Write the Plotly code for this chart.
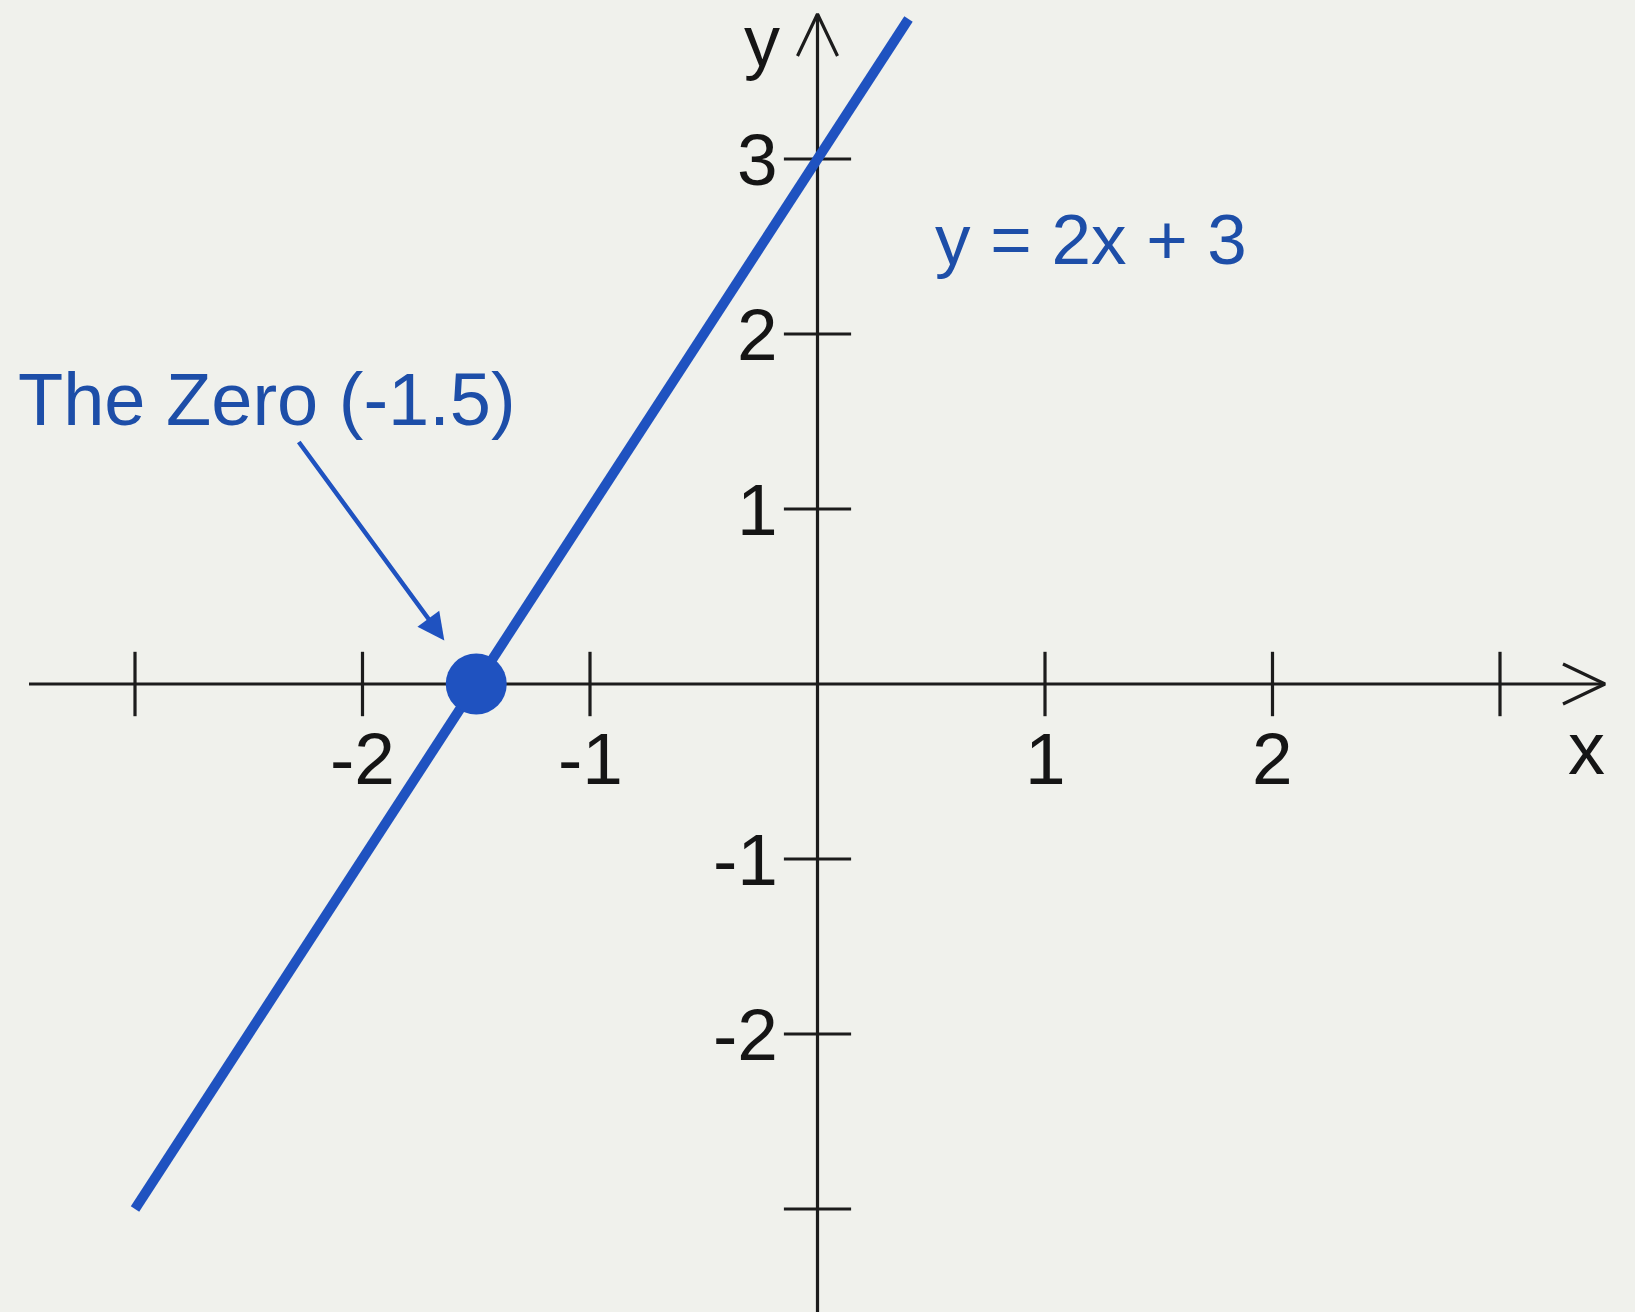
import plotly.graph_objects as go

# ---- data -------------------------------------------------------------
x_tick_vals = [-3, -2, -1, 1, 2, 3]
x_tick_text = ["", "-2", "-1", "1", "2", ""]
y_tick_vals = [-3, -2, -1, 1, 2, 3]
y_tick_text = ["", "-2", "-1", "1", "2", "3"]

# y = 2x + 3, drawn between these two points
line_x = [-3.0, 0.4]
line_y = [-3.0, 3.8]
line_label = "y = 2x + 3"

zero_x = -1.5
zero_y = 0.0
zero_label = "The Zero (-1.5)"

# ---- page geometry ------------------------------------------------------
W, H = 1635, 1312
UX, UY = 227.5, 175.0          # pixels per unit on x and y
OX, OY = 817.5, 684.0          # page pixel of the origin

x_range = [-OX / UX, (W - OX) / UX]
y_range = [-(H - OY) / UY, OY / UY]

AXIS_COLOR = "#1c1c1c"
BLUE = "#1f52c0"
TEXT_BLUE = "#1d4ea8"
BG = "#f0f1ec"
FONT = "Liberation Sans, Arial, Helvetica, sans-serif"

x_axis_start = (29 - OX) / UX
x_axis_end = (1605 - OX) / UX
y_axis_top = (OY - 14) / UY
y_axis_bottom = y_range[0]

head_len, head_half = 42, 20   # axis arrow chevrons, in pixels
AXIS_W = 3.2

fig = go.Figure()

# x axis with arrow
fig.add_trace(go.Scatter(x=[x_axis_start, x_axis_end], y=[0, 0], mode="lines",
                         line=dict(color=AXIS_COLOR, width=AXIS_W), hoverinfo="skip"))
fig.add_trace(go.Scatter(
    x=[x_axis_end - head_len / UX, x_axis_end, x_axis_end - head_len / UX],
    y=[head_half / UY, 0, -head_half / UY], mode="lines",
    line=dict(color=AXIS_COLOR, width=AXIS_W), hoverinfo="skip"))

# y axis with arrow
fig.add_trace(go.Scatter(x=[0, 0], y=[y_axis_bottom, y_axis_top], mode="lines",
                         line=dict(color=AXIS_COLOR, width=AXIS_W), hoverinfo="skip"))
fig.add_trace(go.Scatter(
    x=[-head_half / UX, 0, head_half / UX],
    y=[y_axis_top - head_len / UY, y_axis_top, y_axis_top - head_len / UY],
    mode="lines", line=dict(color=AXIS_COLOR, width=AXIS_W), hoverinfo="skip"))

# tick marks crossing the axes
fig.add_trace(go.Scatter(x=x_tick_vals, y=[0] * len(x_tick_vals), mode="markers",
                         marker=dict(symbol="line-ns", size=46,
                                     line=dict(color=AXIS_COLOR, width=AXIS_W)),
                         hoverinfo="skip"))
fig.add_trace(go.Scatter(x=[0] * len(y_tick_vals), y=y_tick_vals, mode="markers",
                         marker=dict(symbol="line-ew", size=48,
                                     line=dict(color=AXIS_COLOR, width=AXIS_W)),
                         hoverinfo="skip"))

# the function
fig.add_trace(go.Scatter(x=line_x, y=line_y, mode="lines",
                         line=dict(color=BLUE, width=10), hoverinfo="skip"))

# its zero
fig.add_trace(go.Scatter(x=[zero_x], y=[zero_y], mode="markers",
                         marker=dict(size=61, color=BLUE), hoverinfo="skip"))

annotations = []
for v, t in zip(x_tick_vals, x_tick_text):
    if t:
        annotations.append(dict(x=v, y=0, text=t, showarrow=False, yshift=-74,
                                xanchor="center", yanchor="middle",
                                font=dict(family=FONT, size=73, color="#151515")))
for v, t in zip(y_tick_vals, y_tick_text):
    if t:
        annotations.append(dict(x=0, y=v, text=t, showarrow=False, xshift=-38,
                                xanchor="right", yanchor="middle",
                                font=dict(family=FONT, size=73, color="#151515")))

# axis names
annotations.append(dict(x=0, y=1, yref="paper", text="y", showarrow=False,
                        xshift=-56, borderpad=0, xanchor="center", yanchor="top",
                        font=dict(family=FONT, size=72, color="#151515")))
annotations.append(dict(x=x_axis_end, y=0, text="x", showarrow=False,
                        xshift=-19, yshift=-64, xanchor="center", yanchor="middle",
                        font=dict(family=FONT, size=74, color="#151515")))

# equation label
annotations.append(dict(x=1.2, y=2.54, text=line_label, showarrow=False,
                        xanchor="center", yanchor="middle",
                        font=dict(family=FONT, size=71, color=TEXT_BLUE)))

# pointer to the zero
annotations.append(dict(x=zero_x, y=zero_y, text=zero_label, showarrow=True,
                        ax=-209, ay=-285, standoff=54,
                        arrowhead=2, arrowwidth=4.5, arrowsize=1.2, arrowcolor=BLUE,
                        font=dict(family=FONT, size=74, color=TEXT_BLUE)))

fig.update_layout(
    width=W, height=H,
    margin=dict(l=0, r=0, t=0, b=0),
    paper_bgcolor=BG, plot_bgcolor=BG,
    showlegend=False,
    xaxis=dict(range=x_range, visible=False, fixedrange=True),
    yaxis=dict(range=y_range, visible=False, fixedrange=True),
    annotations=annotations,
)

fig.write_html("out.html")
